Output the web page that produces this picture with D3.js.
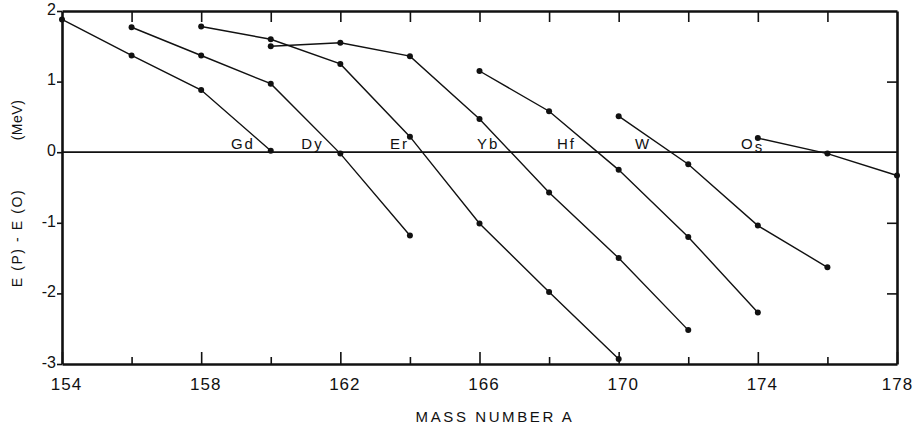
<!DOCTYPE html>
<html>
<head>
<meta charset="utf-8">
<script src="https://cdn.jsdelivr.net/npm/d3@7/dist/d3.min.js"></script>
<style>
  html, body { margin: 0; padding: 0; background: #fff; }
  svg { display: block; }
  text { font-family: "Liberation Sans", Arial, sans-serif; fill: #111; }
</style>
</head>
<body>
<svg id="chart" width="914" height="430"></svg>
<script>
// Proton-neutron energy difference E(P) - E(O) along isotope chains
const elements = ["Gd", "Dy", "Er", "Yb", "Hf", "W", "Os"];

const massGd = [154, 156, 158, 160];
const energyGd = [1.88, 1.37, 0.88, 0.02];

const massDy = [156, 158, 160, 162, 164];
const energyDy = [1.77, 1.37, 0.97, -0.02, -1.18];

const massEr = [158, 160, 162, 164, 166, 168, 170];
const energyEr = [1.78, 1.60, 1.25, 0.22, -1.01, -1.98, -2.93];

const massYb = [160, 162, 164, 166, 168, 170, 172];
const energyYb = [1.50, 1.55, 1.36, 0.47, -0.57, -1.50, -2.52];

const massHf = [166, 168, 170, 172, 174];
const energyHf = [1.15, 0.58, -0.25, -1.20, -2.27];

const massW = [170, 172, 174, 176];
const energyW = [0.51, -0.17, -1.04, -1.63];

const massOs = [174, 176, 178];
const energyOs = [0.20, -0.02, -0.33];

// where each element name sits along the zero line (mass number)
const labelMass = [159.2, 161.2, 163.7, 166.25, 168.5, 170.7, 173.85];

const xTicks = [154, 156, 158, 160, 162, 164, 166, 168, 170, 172, 174, 176, 178];
const xLabelTicks = [154, 158, 162, 166, 170, 174, 178];
const yTicks = [-3, -2, -1, 0, 1, 2];

const masses = [massGd, massDy, massEr, massYb, massHf, massW, massOs];
const energies = [energyGd, energyDy, energyEr, energyYb, energyHf, energyW, energyOs];
const chains = elements.map((el, i) =>
  masses[i].map((m, j) => ({ mass: m, e: energies[i][j] })));

const svg = d3.select("#chart");
const plotLeft = 62, plotRight = 897, plotTop = 11, plotBottom = 364;

const x = d3.scaleLinear().domain([154, 178]).range([plotLeft, plotRight]);
const y = d3.scaleLinear().domain([-3, 2]).range([plotBottom, plotTop]);

const ink = "#111";

// frame axes
const gBottom = svg.append("g").attr("transform", `translate(0,${plotBottom})`)
  .call(d3.axisBottom(x).tickValues(xTicks).tickSize(-7).tickSizeOuter(0)
    .tickPadding(14)
    .tickFormat(d => xLabelTicks.includes(d) ? String(d) : ""));
gBottom.selectAll(".tick line")
  .attr("y2", d => xLabelTicks.includes(d) ? -12 : -7);
gBottom.selectAll(".tick text")
  .attr("dx", d => d === 178 ? 0 : 4)
  .style("font-size", "17px").style("letter-spacing", "1px");

const gTop = svg.append("g").attr("transform", `translate(0,${plotTop})`)
  .call(d3.axisTop(x).tickValues(xTicks.slice(1, -1)).tickSize(-11)
    .tickSizeOuter(0).tickFormat(""));

const gLeft = svg.append("g").attr("transform", `translate(${plotLeft},0)`)
  .call(d3.axisLeft(y).tickValues(yTicks).tickSize(5).tickSizeOuter(0)
    .tickPadding(1).tickFormat(d => String(d)));
gLeft.selectAll(".tick text").attr("dy", "0.2em")
  .style("font-size", "16px");

const gRight = svg.append("g").attr("transform", `translate(${plotRight},0)`)
  .call(d3.axisRight(y).tickValues([-2, -1, 1]).tickSize(-10)
    .tickSizeOuter(0).tickFormat(""));

[gBottom, gTop, gLeft, gRight].forEach(g => {
  g.select(".domain").attr("stroke", ink).attr("stroke-width", 2.6);
  g.selectAll(".tick line").attr("stroke", ink).attr("stroke-width", 1.6);
  g.attr("font-family", null).attr("font-size", null);
});

// zero reference line
svg.append("line")
  .attr("x1", x(154)).attr("x2", x(178))
  .attr("y1", y(0)).attr("y2", y(0))
  .attr("stroke", ink).attr("stroke-width", 1.7);

// isotope chains
const line = d3.line().x(d => x(d.mass)).y(d => y(d.e));
const gChains = svg.append("g");
chains.forEach(pts => {
  gChains.append("path").attr("d", line(pts))
    .attr("fill", "none").attr("stroke", ink).attr("stroke-width", 1.4);
  gChains.selectAll(null).data(pts).enter().append("circle")
    .attr("cx", d => x(d.mass)).attr("cy", d => y(d.e)).attr("r", 3)
    .attr("fill", ink);
});

// element names
elements.forEach((el, i) => {
  const t = svg.append("text")
    .attr("x", x(labelMass[i])).attr("y", y(0) - 3)
    .attr("text-anchor", "middle")
    .style("font-size", "15px").style("letter-spacing", "2px");
  if (el === "Os") {
    t.append("tspan").text("O");
    t.append("tspan").attr("dy", 3).text("s");
  } else {
    t.text(el);
  }
});

// axis titles
svg.append("text")
  .attr("x", 495).attr("y", 422)
  .attr("text-anchor", "middle")
  .style("font-size", "15px").style("letter-spacing", "2.6px")
  .text("MASS NUMBER A");

svg.append("text")
  .attr("transform", "translate(22,238) rotate(-90)")
  .attr("text-anchor", "middle")
  .style("font-size", "14px").style("letter-spacing", "1.6px")
  .text("E (P) - E (O)");

svg.append("text")
  .attr("transform", "translate(22,120) rotate(-90)")
  .attr("text-anchor", "middle")
  .style("font-size", "14px").style("letter-spacing", "0.5px")
  .text("(MeV)");
</script>
</body>
</html>
